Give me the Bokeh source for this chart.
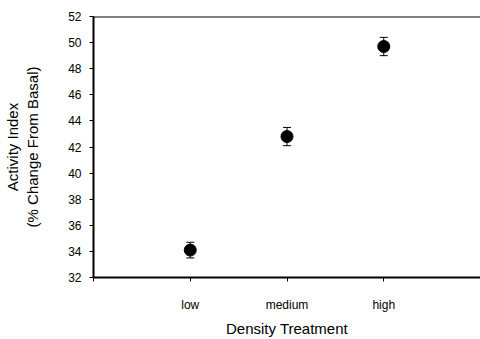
from bokeh.plotting import figure
from bokeh.models import FixedTicker, Span, ColumnDataSource, Whisker
from bokeh.embed import file_html
from bokeh.resources import INLINE

categories = ["low", "medium", "high"]
positions = [1, 2, 3]
means = [34.1, 42.8, 49.7]
errors = [0.6, 0.7, 0.7]
y_ticks = [32, 34, 36, 38, 40, 42, 44, 46, 48, 50, 52]

FONT = "Liberation Sans"

p = figure(width=480, height=339, output_backend="svg", toolbar_location=None,
           x_range=(0, 4), y_range=(32, 52),
           min_border_left=88, min_border_top=16, min_border_bottom=60, min_border_right=0)
p.outline_line_color = None
p.grid.visible = False

src = ColumnDataSource(dict(x=positions, y=means,
                            upper=[m + e for m, e in zip(means, errors)],
                            lower=[m - e for m, e in zip(means, errors)]))
w = Whisker(base="x", upper="upper", lower="lower", source=src,
            line_color="black", line_width=1)
w.upper_head.size = 8
w.lower_head.size = 8
w.upper_head.line_color = "black"
w.lower_head.line_color = "black"
p.add_layout(w)
p.scatter("x", "y", source=src, size=12, color="black")

p.add_layout(Span(location=52, dimension="width", line_color="black", line_width=2))

p.xaxis.ticker = FixedTicker(ticks=[0, 1, 2, 3, 4])
p.xaxis.major_label_overrides = {0: "", 1: categories[0], 2: categories[1], 3: categories[2], 4: ""}
p.yaxis.ticker = FixedTicker(ticks=y_ticks)

for ax in (p.xaxis[0], p.yaxis[0]):
    ax.axis_line_width = 2
    ax.axis_line_color = "black"
    ax.major_tick_line_color = "black"
    ax.major_tick_in = 0
    ax.major_tick_out = 4
    ax.minor_tick_line_color = None
    ax.major_label_text_font = FONT
    ax.major_label_text_font_size = "12px"
    ax.major_label_text_color = "black"
    ax.axis_label_text_font = FONT
    ax.axis_label_text_font_size = "15px"
    ax.axis_label_text_font_style = "normal"
    ax.axis_label_text_color = "black"

p.xaxis.axis_label = "Density Treatment"
p.xaxis.major_label_standoff = 16
p.xaxis.axis_label_standoff = 5
p.yaxis.axis_label = "Activity Index\n(% Change From Basal)"
p.yaxis.major_label_standoff = 8
p.yaxis.axis_label_standoff = 24

open("out.html", "w").write(file_html(p, INLINE))
